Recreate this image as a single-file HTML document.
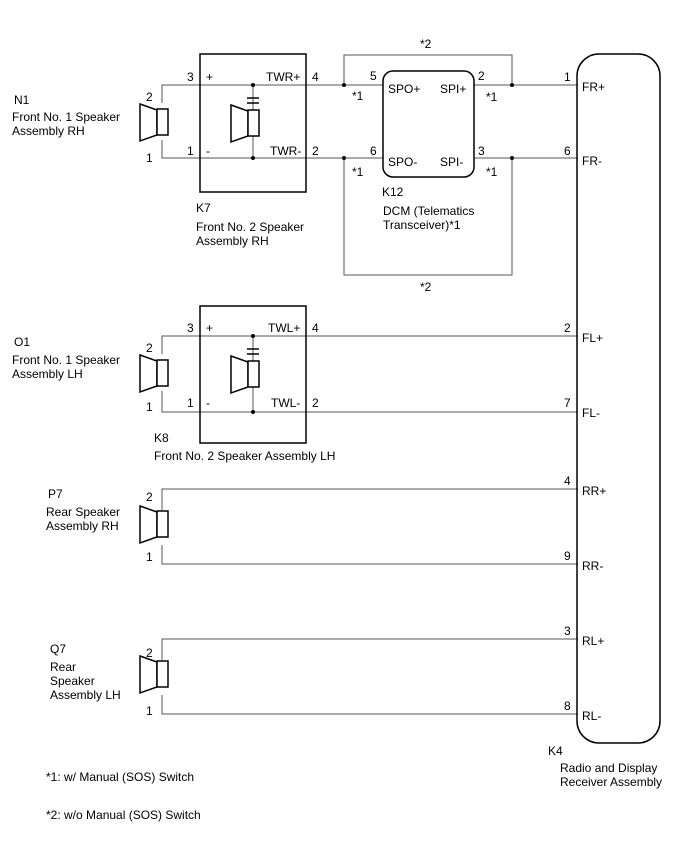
<!DOCTYPE html>
<html><head><meta charset="utf-8"><style>
html,body{margin:0;padding:0;background:#fff;}
svg{display:block;}
text{font-family:"Liberation Sans",Arial,sans-serif;font-size:12px;fill:#000;}
</style></head><body>
<svg width="688" height="852" viewBox="0 0 688 852" xmlns="http://www.w3.org/2000/svg">
<defs>
<g id="spk">
<polygon points="0,0 17,6 17,31 0,37" fill="#fff" stroke="#000" stroke-width="1.5"/>
<rect x="17" y="5" width="11" height="26" fill="#fff" stroke="#000" stroke-width="1.5"/>
</g>
</defs>
<g stroke="#555" stroke-width="1" fill="none">
<polyline points="162,103 162,85 344,85"/>
<polyline points="162,140 162,158 344,158"/>
<line x1="344" y1="85" x2="383" y2="85"/>
<line x1="344" y1="158" x2="383" y2="158"/>
<line x1="474" y1="85" x2="578" y2="85"/>
<line x1="474" y1="158" x2="578" y2="158"/>
<polyline points="344,85 344,55 512,55 512,85"/>
<polyline points="344,158 344,275 512,275 512,158"/>
<polyline points="162,354 162,336 578,336"/>
<polyline points="162,391 162,412 578,412"/>
<polyline points="162,510 162,489 578,489"/>
<polyline points="162,545 162,564 578,564"/>
<polyline points="162,660 162,639 578,639"/>
<polyline points="162,695 162,714 578,714"/>
<line x1="253" y1="85" x2="253" y2="158"/>
<line x1="253" y1="336" x2="253" y2="412"/>
</g>
<rect x="200" y="54" width="106" height="138" fill="none" stroke="#000" stroke-width="1.5"/>
<rect x="200" y="306" width="106" height="137" fill="none" stroke="#000" stroke-width="1.5"/>
<rect x="383" y="71" width="91" height="106" rx="10" fill="#fff" stroke="#000" stroke-width="1.5"/>
<rect x="577" y="54" width="83" height="689" rx="22" fill="none" stroke="#000" stroke-width="1.5"/>
<use href="#spk" x="140" y="104"/>
<use href="#spk" x="140" y="355"/>
<use href="#spk" x="140" y="506"/>
<use href="#spk" x="140" y="656"/>
<use href="#spk" x="231" y="105"/>
<use href="#spk" x="231" y="356"/>
<g stroke="#000" stroke-width="1.5">
<line x1="247" y1="98" x2="259" y2="98"/><line x1="247" y1="103" x2="259" y2="103"/>
<line x1="247" y1="349" x2="259" y2="349"/><line x1="247" y1="354" x2="259" y2="354"/>
</g>
<g fill="#000">
<circle cx="253" cy="85" r="2"/><circle cx="253" cy="158" r="2"/>
<circle cx="253" cy="336" r="2"/><circle cx="253" cy="412" r="2"/>
<circle cx="344" cy="85" r="2"/><circle cx="344" cy="158" r="2"/>
<circle cx="512" cy="85" r="2"/><circle cx="512" cy="158" r="2"/>
</g>
<text x="14" y="104">N1</text>
<text x="12" y="121">Front No. 1 Speaker</text>
<text x="12" y="135">Assembly RH</text>
<text x="146" y="101">2</text><text x="146" y="162">1</text>
<text x="187" y="81">3</text><text x="206" y="81">+</text>
<text x="187" y="155">1</text><text x="206" y="155">-</text>
<text x="266" y="81">TWR+</text><text x="312" y="81">4</text>
<text x="270" y="155">TWR-</text><text x="312" y="155">2</text>
<text x="196" y="212">K7</text>
<text x="196" y="231">Front No. 2 Speaker</text>
<text x="196" y="245">Assembly RH</text>
<text x="420" y="48">*2</text>
<text x="420" y="291">*2</text>
<text x="370" y="80">5</text><text x="370" y="155">6</text>
<text x="352" y="100">*1</text><text x="352" y="176">*1</text>
<text x="388" y="93">SPO+</text><text x="440" y="93">SPI+</text>
<text x="388" y="166">SPO-</text><text x="440" y="166">SPI-</text>
<text x="478" y="80">2</text><text x="478" y="155">3</text>
<text x="486" y="101">*1</text><text x="486" y="176">*1</text>
<text x="382" y="196">K12</text>
<text x="383" y="215">DCM (Telematics</text>
<text x="383" y="229">Transceiver)*1</text>
<text x="564" y="81">1</text><text x="582" y="91">FR+</text>
<text x="564" y="155">6</text><text x="582" y="165">FR-</text>
<text x="14" y="346">O1</text>
<text x="12" y="364">Front No. 1 Speaker</text>
<text x="12" y="378">Assembly LH</text>
<text x="146" y="352">2</text><text x="146" y="411">1</text>
<text x="187" y="332">3</text><text x="206" y="332">+</text>
<text x="187" y="407">1</text><text x="206" y="407">-</text>
<text x="268" y="332">TWL+</text><text x="312" y="332">4</text>
<text x="271" y="407">TWL-</text><text x="312" y="407">2</text>
<text x="154" y="442">K8</text>
<text x="154" y="460">Front No. 2 Speaker Assembly LH</text>
<text x="564" y="332">2</text><text x="582" y="342">FL+</text>
<text x="564" y="407">7</text><text x="582" y="417">FL-</text>
<text x="48" y="498">P7</text>
<text x="46" y="516">Rear Speaker</text>
<text x="46" y="530">Assembly RH</text>
<text x="146" y="501">2</text><text x="146" y="561">1</text>
<text x="564" y="485">4</text><text x="582" y="495">RR+</text>
<text x="564" y="560">9</text><text x="582" y="570">RR-</text>
<text x="50" y="653">Q7</text>
<text x="50" y="671">Rear</text>
<text x="50" y="685">Speaker</text>
<text x="50" y="699">Assembly LH</text>
<text x="146" y="657">2</text><text x="146" y="715">1</text>
<text x="564" y="635">3</text><text x="582" y="645">RL+</text>
<text x="564" y="710">8</text><text x="582" y="720">RL-</text>
<text x="548" y="755">K4</text>
<text x="560" y="772">Radio and Display</text>
<text x="560" y="786">Receiver Assembly</text>
<text x="46" y="781">*1: w/ Manual (SOS) Switch</text>
<text x="46" y="819">*2: w/o Manual (SOS) Switch</text>
</svg>
</body></html>
